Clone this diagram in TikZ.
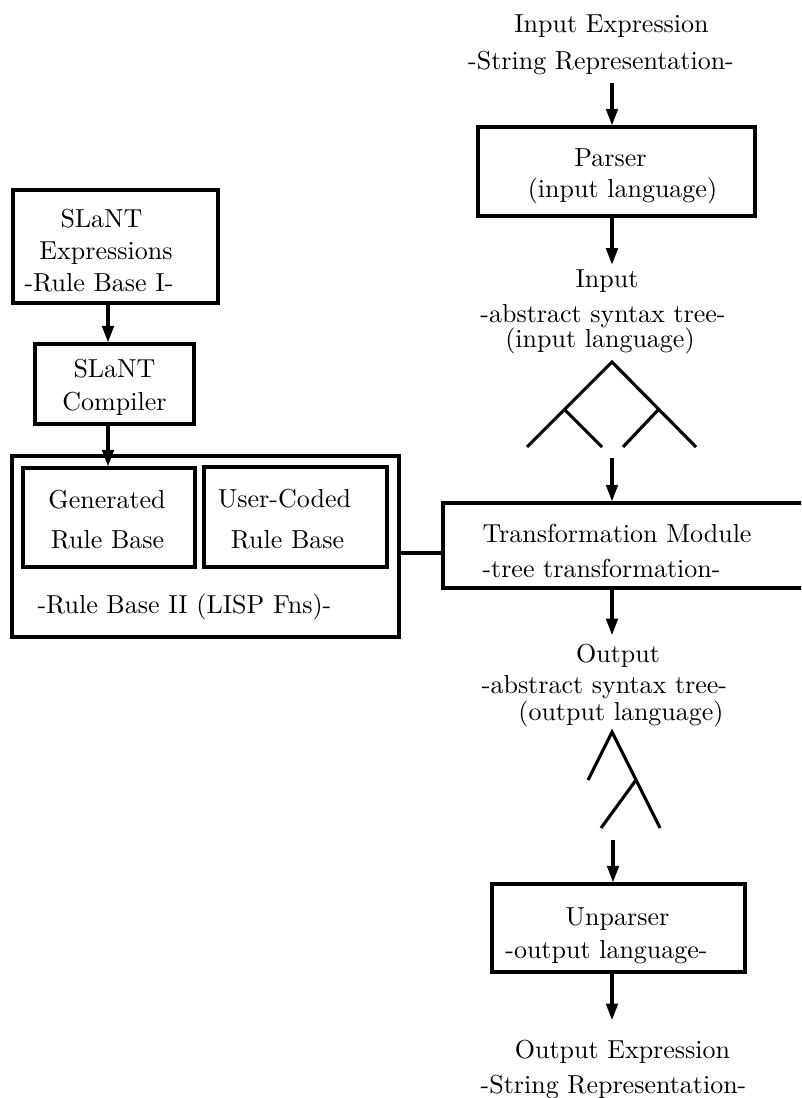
\documentclass[tikz,border=0pt]{standalone}
\usetikzlibrary{arrows.meta,calc}
\begin{document}
\begin{tikzpicture}[x=0.4pt,y=-0.4pt,
  box/.style={draw, line width=1.25pt, inner sep=0pt, rectangle},
  txt/.style={inner sep=0pt, anchor=base, font=\fontsize{10.4}{13}\selectfont},
  txtl/.style={txt, anchor=base west},
  arr/.style={line width=1.25pt, -{Triangle[length=6.6pt,width=4.6pt]}},
  link/.style={line width=1.25pt},
  tree/.style={line width=1.25pt}]
\path[use as bounding box] (0,0) rectangle (801,1098);
\clip (0,0) rectangle (801,1098);

% spines for the vertical flow
\coordinate (sp) at (612,0);
\coordinate (lsp) at (108,0);
\coordinate (lk) at (0,553);

% boxes
\node[box, minimum width=82pt, minimum height=45.2pt] (bexpr) at (115.5,246.5) {};
\node[box, minimum width=63.6pt, minimum height=32pt] (bcomp) at (114.5,384) {};
\node[box, minimum width=154.8pt, minimum height=72.4pt] (bouter) at (205.5,546.5) {};
\node[box, minimum width=68.8pt, minimum height=39.6pt] (bgen) at (109,517.5) {};
\node[box, minimum width=73.2pt, minimum height=40pt] (buser) at (295.5,517) {};
\node[box, minimum width=154.8pt, minimum height=34pt] (btrans) at (636.5,545.5) {};
\node[box, minimum width=110.8pt, minimum height=35.6pt] (bparse) at (616.5,171.5) {};
\node[box, minimum width=101.2pt, minimum height=35.2pt] (bunparse) at (618.5,928) {};

% labels
\node[txt] (inexpr) at (611.5,33) {Input Expression};
\node[txt] (instr) at (601,70) {-String Representation-};
\node[txt] (parse1) at (610.5,167) {Parser};
\node[txt] (parse2) at (622.5,198) {(input language)};
\node[txt] (inast1) at (607,288) {Input};
\node[txt] (inast2) at (603,322) {-abstract syntax tree-};
\node[txt] (inast3) at (600,347) {(input language)};
\node[txt] (ex1) at (101.5,228) {SLaNT};
\node[txt] (ex2) at (106,260) {Expressions};
\node[txt] (ex3) at (99,292) {-Rule Base I-};
\node[txt] (cp1) at (114.5,377) {SLaNT};
\node[txt] (cp2) at (114.5,410) {Compiler};
\node[txt] (gen1) at (107,508) {Generated};
\node[txt] (gen2) at (107.5,548) {Rule Base};
\node[txt] (usr1) at (284.5,507) {User-Coded};
\node[txt] (usr2) at (287.5,548) {Rule Base};
\node[txtl] (rb2) at (37,613) {-Rule Base II (LISP Fns)-};
\node[txtl] (tr1) at (482,542) {Transformation Module};
\node[txtl] (tr2) at (482,577) {-tree transformation-};
\node[txt] (outast1) at (618,662) {Output};
\node[txt] (outast2) at (604.5,693) {-abstract syntax tree-};
\node[txt] (outast3) at (621,720) {(output language)};
\node[txt] (up1) at (617.5,925) {Unparser};
\node[txt] (up2) at (606.5,958) {-output language-};
\node[txt] (outexpr) at (622.5,1058) {Output Expression};
\node[txt] (outstr) at (613.5,1093) {-String Representation-};

% syntax trees
\draw[tree] (527,447) -- (612,362) -- (696,447);
\draw[tree] (565,410) -- (602,447);
\draw[tree] (658,410) -- (623,447);
\draw[tree] (588,780) -- (612,732) -- (660,828);
\draw[tree] (636,780) -- (601,828);
\coordinate (intree) at (612,458);
\coordinate (outtree) at (613,840);

% flow arrows
\draw[arr] ($(sp |- instr.south)+(0,7)$) -- (sp |- bparse.north);
\draw[arr] (sp |- bparse.south) -- ($(sp |- inast1.north)+(0,-5)$);
\draw[arr] (intree) -- (intree |- btrans.north);
\draw[arr] (sp |- btrans.south) -- ($(sp |- outast1.north)+(0,-8)$);
\draw[arr] (outtree) -- (outtree |- bunparse.north);
\draw[arr] (sp |- bunparse.south) -- ($(sp |- outexpr.north)+(0,-19)$);
\draw[arr] (lsp |- bexpr.south) -- (lsp |- bcomp.north);
\draw[arr] (lsp |- bcomp.south) -- (lsp |- bgen.north);
\draw[link] (bouter.east |- lk) -- (btrans.west |- lk);
\end{tikzpicture}
\end{document}
